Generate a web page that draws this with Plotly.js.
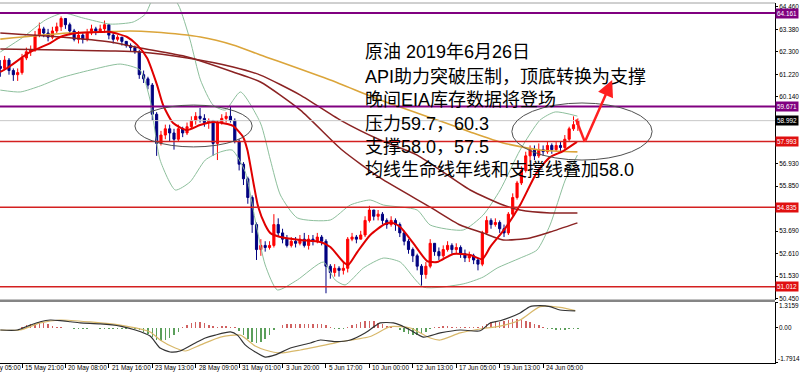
<!DOCTYPE html>
<html><head><meta charset="utf-8">
<script src="https://cdn.plot.ly/plotly-3.0.1.min.js"></script>
<style>html,body{margin:0;padding:0;background:#fff}#chart{width:800px;height:374px}</style>
</head><body><div id="chart"></div>
<script>
// ---- candles (bar index = position) ----
const firstOpen = 61.6;
const closes = [61.5,61.9,61.4,61.2,61.3,62.0,62.3,62.4,63.1,63.4,
63.2,63.0,63.3,63.5,63.9,63.6,63.3,62.9,63.1,62.9,
63.2,63.4,63.3,63.4,63.6,63.1,62.9,63.0,62.8,62.6,
62.5,62.3,61.2,61.0,60.7,59.3,57.9,58.3,58.6,58.4,
58.1,58.6,58.4,58.7,59.0,59.2,59.1,58.9,59.0,57.9,
58.9,59.1,59.2,59.0,58.0,56.9,56.2,55.3,54.0,52.8,
53.0,52.9,53.0,54.0,53.6,53.3,53.0,53.2,53.1,53.3,
53.0,53.3,53.2,53.4,53.2,52.0,51.7,51.9,51.8,51.9,
53.3,53.4,53.3,53.5,54.2,54.7,54.4,54.5,54.2,54.0,
54.2,54.0,53.6,53.2,52.8,52.5,52.0,51.6,52.0,53.1,
52.7,52.5,52.8,53.0,52.8,52.9,52.6,52.4,52.5,52.3,
52.1,53.6,54.2,54.0,54.1,53.8,53.6,54.5,55.3,56.0,
56.6,57.3,57.6,57.3,57.6,57.5,57.8,57.6,57.8,57.7,
58.1,58.6,58.8,58.99];
const highs = [61.9,62.1,62.0,61.5,61.5,62.2,62.5,62.6,63.3,63.7,
63.5,63.4,63.5,63.7,64.0,63.9,63.7,63.4,63.3,63.2,
63.4,63.6,63.5,63.6,63.8,63.6,63.2,63.1,63.0,62.8,
62.7,62.6,62.4,61.4,61.1,60.8,59.4,58.5,58.8,58.8,
58.6,58.8,58.7,58.9,59.2,59.4,59.6,59.3,59.1,59.0,
59.0,59.3,59.4,59.7,59.1,58.1,57.0,56.3,55.4,54.1,
53.3,53.2,53.2,54.5,54.3,53.8,53.5,53.4,53.4,53.5,
53.6,53.5,53.5,53.6,53.5,53.3,52.1,52.1,52.0,52.2,
53.4,53.6,53.5,53.7,54.4,54.9,54.7,54.7,54.6,54.3,
54.4,54.3,54.1,53.7,53.3,52.9,52.6,52.1,52.2,53.3,
53.1,52.9,53.0,53.2,53.1,53.1,53.0,52.8,52.7,52.6,
52.4,53.7,54.4,54.3,54.3,54.2,54.0,54.6,55.5,56.1,
56.8,57.5,57.8,57.8,57.9,57.8,58.0,57.9,58.0,58.0,
58.3,58.7,59.2,59.1];
const lows = [61.1,61.4,61.2,60.9,60.9,61.2,61.9,62.1,62.3,63.0,
63.0,62.8,62.9,63.2,63.3,63.4,63.1,62.8,62.7,62.7,
62.8,63.1,63.1,63.2,63.2,62.9,62.7,62.8,62.6,62.5,
62.3,62.2,61.0,60.8,60.5,59.0,57.3,57.8,58.1,58.0,
57.6,58.0,58.2,58.3,58.6,58.8,58.9,58.7,58.6,57.3,
57.1,58.8,58.9,58.9,57.9,56.6,55.9,55.0,53.6,52.3,
52.5,52.7,52.8,52.9,53.4,53.1,52.9,52.9,52.9,53.0,
52.9,52.8,53.0,53.1,53.0,50.7,51.4,51.5,51.5,51.6,
51.7,53.2,53.1,53.3,53.4,54.1,54.2,54.2,54.0,53.8,
53.9,53.7,53.4,53.0,52.6,52.2,51.8,51.0,51.4,51.9,
52.5,52.3,52.4,52.7,52.6,52.6,52.4,52.2,52.2,52.1,
51.8,52.0,53.5,53.8,53.9,53.6,53.4,53.5,54.4,55.2,
55.9,56.5,57.0,57.1,57.2,57.3,57.4,57.4,57.5,57.5,
57.6,58.0,58.5,58.5];

// ---- indicator lines (bar index, price) ----
const maRedX = [0,1.6,6.9,11.5,13.8,17.7,23.0,25.3,29.2,31.5,33.8,36.1,37.5,39.8,43.0,46.0,49.0,52.3,53.6,55.9,56.9,58.3,59.4,61.0,62.2,64.5,69.0,73.7,76.0,79.0,80.1,82.2,85.2,88.6,90.5,92.1,95.1,98.3,100.6,104.3,108.2,111.0,112.8,116.3,119.7,123.6,126.6,129.6,132.8];
const maRedV = [61.33,61.52,62.29,62.72,63.01,63.20,63.25,63.25,63.01,62.63,62.00,60.70,59.74,58.88,58.54,58.78,58.93,58.83,58.74,58.21,57.58,56.00,54.84,53.98,53.59,53.40,53.26,53.16,52.92,52.20,52.06,52.68,53.50,54.03,54.07,53.88,53.11,52.25,52.20,52.59,52.54,52.34,52.92,53.83,54.94,56.52,57.24,57.53,57.97];
const bbUpX = [0,5.3,10.4,14.5,19.1,25.3,30.6,33.4,35.2,38.0,41.0,43.7,46.1,49.0,51.8,55.3,59.9,62.2,64.5,68.4,76.0,80.6,85.2,88.2,96.0,99.0,106.6,111.2,115.1,119.7,124.3,127.8,132.9];
const bbUpV = [62.29,63.01,63.83,64.16,63.92,63.63,63.73,64.11,64.88,65.27,64.55,62.87,60.94,59.74,59.50,60.37,58.88,57.10,55.42,54.32,54.22,54.94,55.18,54.94,54.70,53.98,53.74,54.46,55.66,57.58,59.02,59.41,59.21];
const bbLoX = [0,4.6,9.2,13.8,20.7,27.6,32.2,34.5,36.8,40.3,43.7,47.2,50.7,53.4,56.4,58.7,61.0,63.8,68.4,74.4,77.1,79.4,83.6,88.2,92.1,97.4,106.6,111.2,114.4,119.7,123.6,126.6,130.1,132.9];
const bbLoV = [60.46,60.37,60.66,61.04,61.42,61.71,61.42,59.98,57.10,55.66,56.05,57.10,57.49,57.58,56.53,54.22,52.06,50.86,51.34,52.20,51.34,51.10,51.91,52.39,52.20,51.00,51.15,51.48,51.91,52.39,52.78,53.98,56.14,57.34];
const maGoldX = [0,15.4,23.0,29.9,35.2,46.1,53.6,59.9,76.0,87.5,101.3,108.2,115.8,124.3,132.9];
const maGoldV = [62.91,63.20,63.25,63.30,63.25,63.01,62.63,62.15,60.94,59.98,58.97,58.45,57.92,57.58,57.49];
const maFastBrX = [0,13.8,25.3,32.2,43.1,53.6,59.9,69.1,78.7,87.5,99.0,105.9,111.2,115.8,122.0,126.6,132.9];
const maFastBrV = [63.20,63.01,62.77,62.48,62.05,61.33,60.85,59.50,57.58,56.24,54.84,53.98,53.60,53.26,53.36,53.64,54.08];
const maSlowBrX = [0,13.8,25.3,32.2,43.1,53.6,59.9,69.1,78.3,87.5,96.0,108.2,115.8,119.7,126.6,132.9];
const maSlowBrV = [62.43,62.39,62.34,62.29,62.00,61.57,61.18,60.22,59.02,58.06,57.34,55.66,54.94,54.70,54.56,54.56];

// ---- MACD panel ----
const hist = [-0.03,-0.03,-0.02,-0.02,0.0,
0.05,0.12,0.18,0.22,0.25,0.24,0.18,0.1,
0.04,0.02,-0.01,
-0.03,-0.04,-0.05,-0.05,-0.04,-0.03,-0.03,-0.04,-0.04,-0.05,-0.05,-0.06,-0.05,-0.06,-0.07,-0.08,
-0.1,-0.2,-0.3,-0.45,-0.6,-0.67,-0.62,-0.5,-0.35,-0.2,
0.05,0.15,0.25,0.3,0.31,0.25,0.15,
0.08,0.05,0.07,0.08,0.06,0.02,
-0.15,-0.35,-0.55,-0.72,-0.77,-0.7,-0.55,-0.35,
-0.12,-0.02,
0.15,0.2,0.22,0.22,0.2,0.2,0.18,0.2,0.2,0.18,0.15,0.05,
-0.05,-0.06,-0.04,
0.05,0.15,0.22,0.3,0.35,0.36,0.33,0.25,0.18,0.1,
0.04,0.01,
-0.1,-0.2,-0.3,-0.37,-0.35,-0.3,-0.2,
-0.08,
0.05,0.06,0.07,0.07,0.06,0.05,0.05,0.04,0.03,0.02,0.02,
0.1,0.2,0.28,0.31,0.3,
0.35,0.42,0.46,0.46,0.42,0.36,
0.28,0.2,0.12,0.05,
-0.05,-0.08,-0.1,-0.1,-0.1,-0.08,-0.08,-0.07];
const macdX = [0,3.9,6.9,9.2,11.5,13.8,16.1,18.4,23.0,27.6,31.1,34.5,36.8,39.1,41.4,44.9,47.2,49.5,53.0,54.6,56.4,58.7,61.0,63.3,66.8,71.4,73.7,77.1,80.6,84.0,87.5,90.5,92.1,94.4,97.4,101.3,105.9,110.5,112.8,115.1,119.7,122.0,124.3,126.6,128.9,132.4];
const macdV = [-0.11,-0.11,0.14,0.31,0.40,0.37,0.31,0.25,0.20,0.09,-0.11,-0.42,-1.03,-1.23,-1.18,-0.77,-0.52,-0.37,-0.21,-0.37,-0.87,-1.23,-1.49,-1.38,-1.03,-0.77,-0.62,-0.70,-0.62,-0.26,0.25,0.25,0.14,-0.11,-0.47,-0.26,-0.11,-0.15,0.25,0.36,0.76,1.08,1.13,1.08,0.91,0.86];
const sigX = [0,4.6,9.2,13.8,20.7,27.6,34.5,36.8,40.3,42.6,46.1,50.7,55.3,58.7,61.0,64.5,69.1,76.0,78.3,85.2,89.8,94.4,99.0,101.3,105.9,110.5,115.1,119.7,124.3,128.9,132.4];
const sigV = [-0.11,-0.11,0.25,0.40,0.30,0.14,-0.21,-0.62,-1.03,-1.18,-0.87,-0.47,-0.37,-0.93,-1.13,-1.28,-1.13,-0.82,-0.71,-0.44,0.06,-0.01,-0.52,-0.62,-0.26,-0.06,0.09,0.40,1.08,1.04,0.88];

// ---- axis labels and levels ----
const tickIdx = [-5,5,15,25,35,45,55,65,75,85,95,105,115,125];
const tickLabels = ["15 May 05:00","15 May 21:00","20 May 08:00","21 May 16:00","23 May 13:00","28 May 09:00","31 May 01:00","3 Jun 20:00","5 Jun 17:00","10 Jun 00:00","12 Jun 13:00","17 Jun 05:00","19 Jun 13:00","24 Jun 05:00"];
const priceTicks = [64.460,63.380,62.300,61.220,60.140,56.930,55.850,53.690,52.610,51.530,50.450];
const purpleLevels = [64.161,59.671];
const redLevels = [57.993,54.835,51.012];
const lastPrice = 58.992;
const macdTicks = [1.3159,0,-1.7914];
const noteLines = ["原油 2019年6月26日","API助力突破压制，顶底转换为支撑","晚间EIA库存数据将登场","压力59.7，60.3","支撑58.0，57.5","均线生命线年线和支撑线叠加58.0"];

const idx = closes.map((_, i) => i);
const opens = [firstOpen].concat(closes.slice(0, -1));

const lineTrace = (x, y, color, width) => ({type:'scatter', mode:'lines', x, y, xaxis:'x', yaxis:'y',
  line:{color, width, shape:'spline', smoothing:0.6}, hoverinfo:'skip'});

const traces = [
  lineTrace(bbUpX, bbUpV, '#8dbf9c', 1),
  lineTrace(bbLoX, bbLoV, '#8dbf9c', 1),
  lineTrace(maGoldX, maGoldV, '#dba53a', 1.6),
  lineTrace(maSlowBrX, maSlowBrV, '#8b2323', 1.5),
  lineTrace(maFastBrX, maFastBrV, '#8b2323', 1.5),
  {type:'candlestick', x:idx, open:opens, high:highs, low:lows, close:closes, xaxis:'x', yaxis:'y',
   increasing:{line:{color:'#ff0000', width:1}, fillcolor:'#ff0000'},
   decreasing:{line:{color:'#000080', width:1}, fillcolor:'#000080'},
   whiskerwidth:0, hoverinfo:'skip'},
  lineTrace(maRedX, maRedV, '#e00000', 2),
  {type:'bar', x:idx, y:hist, xaxis:'x', yaxis:'y2', width:0.35,
   marker:{color:hist.map(v => v >= 0 ? '#c84646' : '#3f8f3f'), line:{width:0}}, opacity:0.85, hoverinfo:'skip'},
  {type:'scatter', mode:'lines', x:sigX, y:sigV, xaxis:'x', yaxis:'y2', line:{color:'#d8b86a', width:1.2, shape:'spline', smoothing:0.6}, hoverinfo:'skip'},
  {type:'scatter', mode:'lines', x:macdX, y:macdV, xaxis:'x', yaxis:'y2', line:{color:'#333333', width:1.2, shape:'spline', smoothing:0.6}, hoverinfo:'skip'}
];

const pxToPaperY = py => (363 - py) / 360;
const plotW = 775;

const shapes = [];
purpleLevels.forEach(v => shapes.push({type:'line', xref:'paper', x0:0, x1:1, yref:'y', y0:v, y1:v, line:{color:'#800080', width:2}}));
redLevels.forEach(v => shapes.push({type:'line', xref:'paper', x0:0, x1:1, yref:'y', y0:v, y1:v, line:{color:'#d42020', width:1.5}}));
shapes.push({type:'line', xref:'paper', x0:0, x1:1, yref:'y', y0:lastPrice, y1:lastPrice, line:{color:'#c8c8c8', width:1}});
shapes.push({type:'rect', xref:'paper', x0:0, x1:1, yref:'paper', y0:pxToPaperY(302), y1:pxToPaperY(299.5), fillcolor:'#858585', line:{width:0}});
shapes.push({type:'line', xref:'paper', x0:0, x1:1, yref:'paper', y0:1, y1:1, line:{color:'#a0a0a0', width:1}});
// ellipses
shapes.push({type:'circle', xref:'x', yref:'y', x0:31.0, x1:58.0, y0:57.73, y1:59.74, line:{color:'#505050', width:1}});
shapes.push({type:'circle', xref:'x', yref:'y', x0:117.8, x1:150.1, y0:57.10, y1:59.84, line:{color:'#505050', width:1}});
// red zigzag of the arrow
shapes.push({type:'path', xref:'x', yref:'y', path:'M 132.6 59.05 L 134.6 57.97', line:{color:'#ff2020', width:2.5}});

const annotations = [];
const axFont = {family:'Liberation Sans, Arial, sans-serif', size:6.4, color:'#000'};
tickIdx.forEach((t, k) => {
  if (t < 0) annotations.push({xref:'paper', x:(0.3 + t*4.343)/plotW, yref:'paper', y:pxToPaperY(367.5), text:tickLabels[k], showarrow:false, xanchor:'left', yanchor:'middle', xshift:1, font:axFont});
  else annotations.push({xref:'x', x:t, yref:'paper', y:pxToPaperY(367.5), text:tickLabels[k], showarrow:false, xanchor:'left', yanchor:'middle', xshift:1, font:axFont});
});
const boxLabel = (v, bg) => ({xref:'paper', x:1, yref:'y', y:v, text:v.toFixed(3), showarrow:false, xanchor:'left', yanchor:'middle', xshift:0, bgcolor:bg, borderpad:1, font:{family:axFont.family, size:6.4, color:'#fff'}});
purpleLevels.forEach(v => annotations.push(boxLabel(v, '#800080')));
annotations.push(boxLabel(lastPrice, '#000000'));
redLevels.forEach(v => annotations.push(boxLabel(v, '#e01010')));
annotations.push({xref:'paper', x:1, yref:'y2', y:1.16, text:'1.3159', showarrow:false, xanchor:'left', yanchor:'middle', xshift:2, font:axFont});
annotations.push({xref:'paper', x:1, yref:'y2', y:0, text:'0.00', showarrow:false, xanchor:'left', yanchor:'middle', xshift:2, font:axFont});
annotations.push({xref:'paper', x:1, yref:'y2', y:-1.54, text:'-1.7914', showarrow:false, xanchor:'left', yanchor:'middle', xshift:1, font:axFont});
const noteY = [52, 77, 100, 124, 147, 170];
noteLines.forEach((t, k) => annotations.push({xref:'paper', x:363/plotW, yref:'paper', y:pxToPaperY(noteY[k]), text:t, showarrow:false, xanchor:'left', yanchor:'middle', font:{family:'Liberation Sans, Noto Sans CJK SC, sans-serif', size:18, color:'#000'}}));
// red arrow up
annotations.push({xref:'x', yref:'y', x:140.9, y:60.94, axref:'x', ayref:'y', ax:134.6, ay:57.97, text:'', showarrow:true, arrowhead:2, arrowsize:1.3, arrowwidth:2.5, arrowcolor:'#ff2020'});

const layout = {
  width:800, height:374,
  margin:{l:0, r:25, t:3, b:11, pad:0},
  paper_bgcolor:'#ffffff', plot_bgcolor:'#ffffff',
  showlegend:false,
  font:{family:'Liberation Sans, Arial, sans-serif', size:6.4, color:'#000'},
  xaxis:{domain:[0,1], anchor:'y2', range:[-0.07,178.4], rangeslider:{visible:false}, showgrid:false, zeroline:false,
    showline:true, linecolor:'#000', linewidth:1, ticks:'outside', ticklen:4, tickcolor:'#000', tickvals:tickIdx, showticklabels:false},
  yaxis:{domain:[0.175,1], range:[50.377,64.643], side:'right', anchor:'x', showgrid:false, zeroline:false,
    showline:true, linecolor:'#000', linewidth:1, ticks:'outside', ticklen:2, tickcolor:'#000',
    tickvals:priceTicks, ticktext:priceTicks.map(v => v.toFixed(3)), tickfont:{size:6.4, color:'#000'}},
  yaxis2:{domain:[0,0.1694], range:[-1.7914,1.3159], side:'right', anchor:'x', showgrid:false, zeroline:false,
    showline:true, linecolor:'#000', linewidth:1, ticks:'outside', ticklen:2, tickcolor:'#000', tickvals:macdTicks, showticklabels:false},
  bargap:0,
  shapes, annotations
};

Plotly.newPlot('chart', traces, layout, {staticPlot:true, displayModeBar:false});
</script>
</body></html>
